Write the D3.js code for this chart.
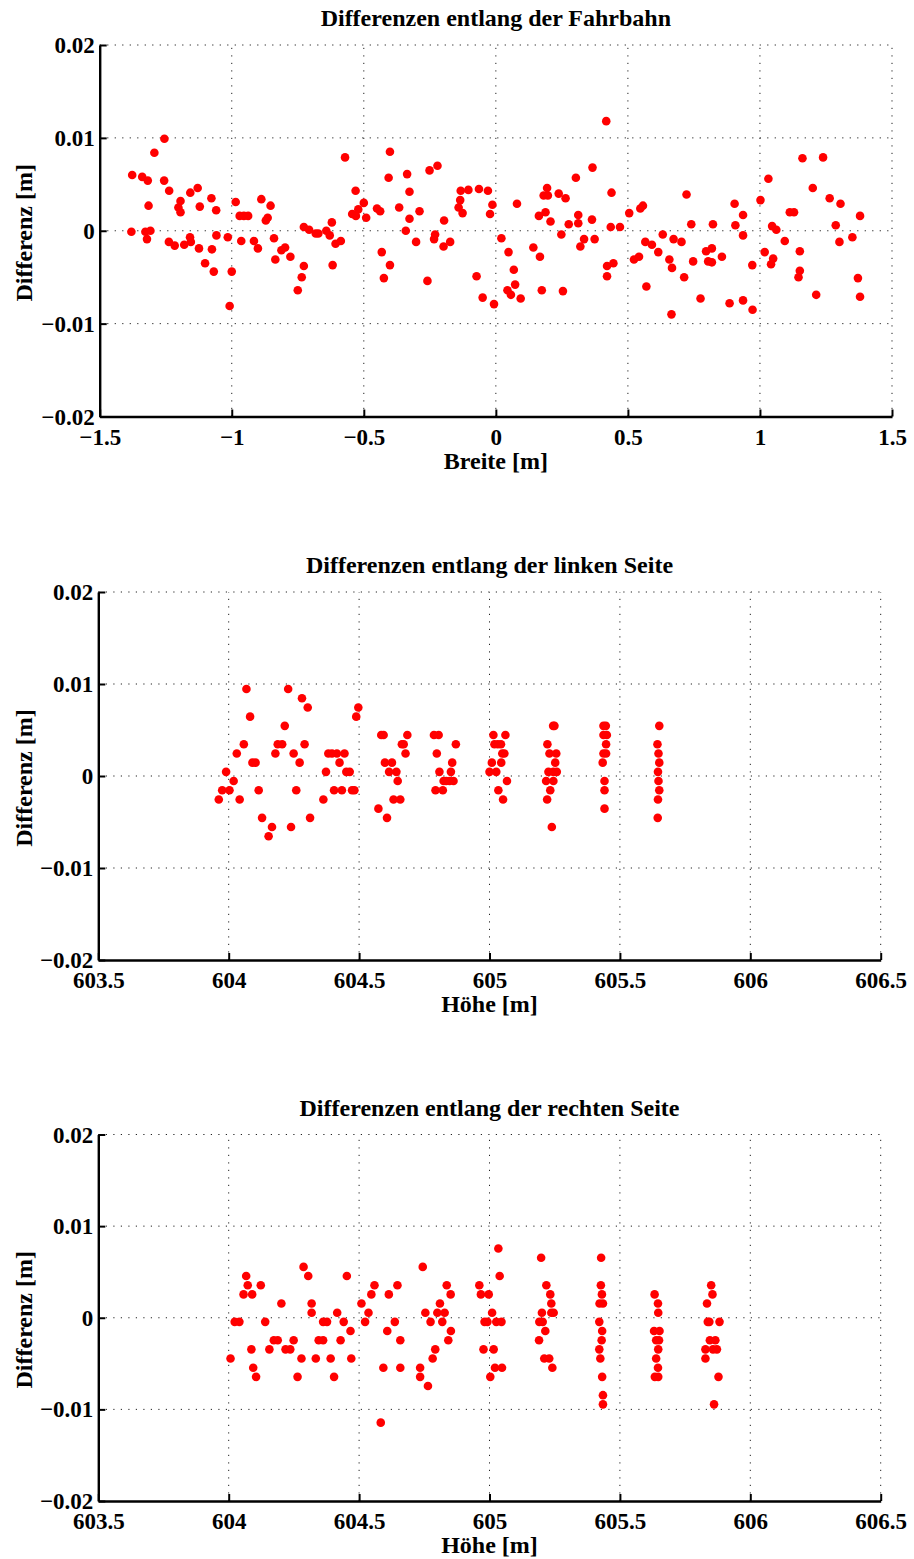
<!DOCTYPE html>
<html>
<head>
<meta charset="utf-8">
<script src="https://cdn.jsdelivr.net/npm/d3@7"></script>
<style>
  html, body { margin: 0; padding: 0; background: #fff; }
  svg { display: block; }
</style>
</head>
<body>
<svg id="chart" width="914" height="1559"></svg>
<script>
// ---------- data ----------
const titles = ["Differenzen entlang der Fahrbahn", "Differenzen entlang der linken Seite", "Differenzen entlang der rechten Seite"];
const xLabels = ["Breite [m]", "Höhe [m]", "Höhe [m]"];
const yLabel = "Differenz [m]";

const yTicks = [-0.02, -0.01, 0, 0.01, 0.02];
const xTicksFahrbahn = [-1.5, -1, -0.5, 0, 0.5, 1, 1.5];
const xTicksSeite = [603.5, 604, 604.5, 605, 605.5, 606, 606.5];

const fahrbahnX = [-1.255,-1.293,-1.377,-1.339,-1.318,-1.256,-1.237,-1.157,-1.129,-1.194,-1.315,-1.202,-1.194,-1.121,-1.077,-1.059,-0.985,-0.970,-0.954,-0.938,-0.888,-0.853,-0.864,-0.871,-1.380,-1.327,-1.308,-1.321,-1.238,-1.216,-1.180,-1.158,-1.155,-1.124,-1.075,-1.058,-1.101,-1.068,-1.015,-0.964,-1.000,-1.008,-0.916,-0.901,-0.840,-0.812,-0.798,-0.835,-0.778,-0.750,
-0.727,-0.735,-0.571,-0.401,-0.406,-0.336,-0.327,-0.251,-0.221,-0.531,-0.500,-0.521,-0.544,-0.530,-0.491,-0.450,-0.438,-0.366,-0.327,-0.289,-0.196,-0.133,-0.104,-0.064,-0.030,-0.135,-0.141,-0.126,-0.013,-0.022,-0.727,-0.707,-0.682,-0.672,-0.642,-0.629,-0.621,-0.607,-0.587,-0.618,-0.341,-0.302,-0.230,-0.234,-0.198,-0.173,-0.432,-0.401,-0.424,-0.259,-0.073,-0.050,-0.007,0.021,
0.418,0.366,0.303,0.194,0.181,0.197,0.238,0.264,0.080,0.438,0.188,0.163,0.207,0.312,0.312,0.276,0.364,0.435,0.470,0.505,0.547,0.557,0.722,0.740,0.048,0.068,0.073,0.044,0.057,0.094,0.142,0.167,0.174,0.248,0.254,0.334,0.320,0.374,0.421,0.445,0.421,0.566,0.591,0.615,0.632,0.673,0.703,0.523,0.542,0.657,0.667,0.570,0.747,0.713,0.665,0.775,
1.161,1.239,1.032,1.200,1.264,1.305,1.379,1.002,0.904,0.936,1.113,1.129,0.822,0.907,1.046,1.062,1.287,0.936,1.094,1.018,1.050,1.042,1.151,1.151,1.146,1.301,1.350,0.796,0.818,0.804,0.818,0.856,0.971,0.885,0.936,0.972,1.213,1.371,1.379];
const fahrbahnY = [0.0099,0.0084,0.0060,0.0058,0.0054,0.0054,0.0043,0.0041,0.0046,0.0032,0.0027,0.0025,0.0020,0.0026,0.0035,0.0022,0.0031,0.0016,0.0016,0.0016,0.0034,0.0027,0.0014,0.0011,-0.0001,-0.0001,0.0000,-0.0009,-0.0012,-0.0016,-0.0015,-0.0007,-0.0012,-0.0019,-0.0020,-0.0005,-0.0035,-0.0044,-0.0007,-0.0011,-0.0044,-0.0081,-0.0011,-0.0019,-0.0008,-0.0021,-0.0018,-0.0031,-0.0028,-0.0064,
-0.0038,-0.0050,0.0079,0.0085,0.0057,0.0061,0.0042,0.0065,0.0070,0.0043,0.0030,0.0023,0.0018,0.0016,0.0014,0.0024,0.0021,0.0025,0.0013,0.0021,0.0011,0.0043,0.0044,0.0045,0.0043,0.0033,0.0025,0.0019,0.0028,0.0018,0.0004,0.0001,-0.0003,-0.0003,0.0000,-0.0005,0.0009,-0.0014,-0.0011,-0.0037,0.0000,-0.0012,-0.0004,-0.0009,-0.0017,-0.0012,-0.0023,-0.0037,-0.0051,-0.0054,-0.0049,-0.0072,-0.0079,-0.0008,
0.0118,0.0068,0.0057,0.0046,0.0038,0.0038,0.0040,0.0035,0.0029,0.0041,0.0020,0.0016,0.0010,0.0017,0.0008,0.0007,0.0012,0.0004,0.0004,0.0019,0.0024,0.0027,0.0039,0.0007,-0.0023,-0.0042,-0.0058,-0.0064,-0.0069,-0.0073,-0.0018,-0.0028,-0.0064,-0.0004,-0.0065,-0.0009,-0.0017,-0.0009,-0.0038,-0.0035,-0.0049,-0.0012,-0.0015,-0.0023,-0.0004,-0.0009,-0.0012,-0.0031,-0.0028,-0.0031,-0.0040,-0.0060,-0.0033,-0.0050,-0.0090,-0.0073,
0.0078,0.0079,0.0056,0.0046,0.0035,0.0029,0.0016,0.0033,0.0029,0.0017,0.0020,0.0020,0.0007,0.0006,0.0005,0.0001,0.0006,-0.0005,-0.0011,-0.0023,-0.0030,-0.0036,-0.0022,-0.0043,-0.0050,-0.0012,-0.0007,-0.0022,-0.0019,-0.0033,-0.0034,-0.0028,-0.0037,-0.0078,-0.0075,-0.0085,-0.0069,-0.0051,-0.0071];

const linksX = [604.068,604.228,604.281,604.303,604.082,604.497,604.489,604.215,604.058,604.031,604.091,604.103,603.990,604.019,603.975,604.003,603.962,604.042,604.115,604.128,604.166,604.153,604.239,604.259,604.312,604.188,604.205,604.291,604.179,604.249,604.272,604.373,604.363,604.382,604.396,604.415,604.444,604.425,604.451,604.464,604.404,604.434,604.473,604.482,604.574,604.607,604.585,604.594,604.664,604.671,604.685,604.678,604.599,604.626,604.615,604.643,604.648,604.632,604.658,604.787,604.805,604.798,604.808,604.793,604.821,604.871,604.857,604.852,604.834,604.847,604.862,604.824,
605.015,605.061,605.019,605.032,605.044,605.049,605.057,605.009,605.045,605.000,605.026,605.067,605.034,605.052,
605.244,605.249,605.222,605.230,605.256,605.252,605.226,605.245,605.258,605.217,605.245,605.233,605.221,605.239,
605.437,605.446,605.437,605.450,605.447,605.437,605.447,605.434,605.441,605.441,605.441,
605.651,605.644,605.648,605.651,605.646,605.648,605.651,605.646,605.645];
const linksY = [0.00945,0.00945,0.00845,0.00745,0.00645,0.00745,0.00645,0.00545,0.00345,0.00245,0.00145,0.00145,0.00045,-0.00055,-0.00155,-0.00155,-0.00255,-0.00255,-0.00155,-0.00455,-0.00555,-0.00655,-0.00555,-0.00155,-0.00455,0.00345,0.00345,0.00345,0.00245,0.00245,0.00145,0.00045,-0.00255,0.00245,0.00245,0.00245,0.00245,0.00145,0.00045,0.00045,-0.00155,-0.00155,-0.00155,-0.00155,-0.00355,-0.00455,0.00445,0.00445,0.00345,0.00345,0.00445,0.00245,0.00145,0.00145,0.00045,0.00045,-0.00055,-0.00255,-0.00255,0.00445,0.00445,0.00245,0.00045,-0.00155,-0.00155,0.00345,0.00145,0.00045,-0.00055,-0.00055,-0.00055,-0.00055,
0.00445,0.00445,0.00345,0.00345,0.00345,0.00245,0.00245,0.00145,0.00145,0.00045,0.00045,-0.00055,-0.00155,-0.00255,
0.00545,0.00545,0.00345,0.00245,0.00245,0.00145,0.00045,0.00045,0.00045,-0.00055,-0.00055,-0.00155,-0.00255,-0.00555,
0.00545,0.00545,0.00445,0.00445,0.00345,0.00245,0.00245,0.00145,-0.00055,-0.00155,-0.00355,
0.00545,0.00345,0.00245,0.00145,0.00045,-0.00055,-0.00155,-0.00255,-0.00455];

const rechtsX = [604.287,604.067,604.305,604.453,604.073,604.123,604.057,604.090,604.202,604.318,604.318,604.416,604.023,604.041,604.140,604.362,604.377,604.441,604.467,604.173,604.188,604.249,604.345,604.362,604.429,604.087,604.156,604.218,604.236,604.007,604.279,604.334,604.391,604.470,604.094,604.105,604.264,604.404,604.583,
604.509,604.536,604.547,604.559,604.523,604.608,604.593,604.614,604.647,604.637,604.658,604.658,
604.744,604.754,604.774,604.792,604.782,604.734,604.734,604.764,604.810,604.800,604.828,604.819,604.836,604.851,604.852,604.842,
604.961,604.967,604.997,605.010,604.981,604.992,605.026,605.046,604.977,605.016,605.021,605.048,605.003,605.034,605.039,
605.198,605.218,605.233,605.237,605.201,605.237,605.246,605.191,605.204,605.214,605.190,605.210,605.229,605.241,
605.428,605.427,605.431,605.422,605.435,605.421,605.432,605.430,605.421,605.425,605.432,605.435,605.435,
605.633,605.646,605.647,605.631,605.652,605.639,605.650,605.647,605.639,605.646,605.634,605.647,
605.850,605.855,605.834,605.837,605.843,605.882,605.845,605.866,605.828,605.857,605.872,605.828,605.878,605.861];
const rechtsY = [0.00555,0.00455,0.00455,0.00455,0.00355,0.00355,0.00255,0.00255,0.00155,0.00155,0.00055,0.00055,-0.00045,-0.00045,-0.00045,-0.00045,-0.00045,-0.00045,-0.00145,-0.00245,-0.00245,-0.00245,-0.00245,-0.00245,-0.00245,-0.00345,-0.00345,-0.00345,-0.00345,-0.00445,-0.00445,-0.00445,-0.00445,-0.00445,-0.00545,-0.00645,-0.00645,-0.00645,-0.01145,
0.00155,0.00055,0.00255,0.00355,-0.00045,-0.00145,-0.00545,0.00255,0.00355,-0.00045,-0.00245,-0.00545,
0.00555,0.00055,-0.00045,-0.00345,-0.00445,-0.00545,-0.00645,-0.00745,0.00155,0.00055,0.00055,-0.00045,0.00355,0.00255,-0.00145,-0.00245,
0.00355,0.00255,0.00255,0.00055,-0.00045,-0.00045,-0.00045,-0.00045,-0.00345,-0.00345,-0.00545,-0.00545,-0.00645,0.00755,0.00455,
0.00655,0.00355,0.00255,0.00155,0.00055,0.00055,0.00055,-0.00045,-0.00045,-0.00145,-0.00245,-0.00445,-0.00445,-0.00545,
0.00655,0.00355,0.00255,0.00155,0.00155,-0.00045,-0.00145,-0.00245,-0.00345,-0.00445,-0.00645,-0.00845,-0.00945,
0.00255,0.00155,0.00055,-0.00145,-0.00145,-0.00245,-0.00245,-0.00345,-0.00445,-0.00545,-0.00645,-0.00645,
0.00355,0.00255,0.00155,-0.00045,-0.00045,-0.00045,-0.00245,-0.00245,-0.00345,-0.00345,-0.00345,-0.00445,-0.00645,-0.00945];

// ---------- layout ----------
const panels = [
  { xs: fahrbahnX, ys: fahrbahnY, xTicks: xTicksFahrbahn, left: 99.7, right: 892, top: 45, bottom: 416.5 },
  { xs: linksX, ys: linksY, xTicks: xTicksSeite, left: 98.3, right: 880.7, top: 592, bottom: 960 },
  { xs: rechtsX, ys: rechtsY, xTicks: xTicksSeite, left: 98.3, right: 880.7, top: 1134.5, bottom: 1501 }
];

const FONT = "'Liberation Serif', 'Times New Roman', Times, 'DejaVu Serif', serif";
const FS = 23;   // tick labels
const FL = 24;   // titles and axis labels

const svg = d3.select("#chart");
const fmt = v => String(+v.toFixed(4)).replace("-", "\u2212");

panels.forEach((p, i) => {
  const x = d3.scaleLinear().domain(d3.extent(p.xTicks)).range([p.left, p.right]);
  const y = d3.scaleLinear().domain([-0.02, 0.02]).range([p.bottom, p.top]);
  const g = svg.append("g").attr("font-family", FONT).attr("font-weight", "bold");

  // grid (dotted)
  const grid = g.append("g").attr("stroke", "#222").attr("stroke-width", 1).attr("stroke-dasharray", "1.2,6.3").attr("fill", "none");
  p.xTicks.slice(1).forEach(t => {
    grid.append("line").attr("x1", x(t)).attr("x2", x(t)).attr("y1", p.bottom).attr("y2", p.top);
  });
  yTicks.slice(1).forEach(t => {
    grid.append("line").attr("x1", p.left).attr("x2", p.right).attr("y1", y(t)).attr("y2", y(t));
  });

  // points
  const data = p.xs.map((v, k) => [v, p.ys[k]]);
  g.append("g").selectAll("circle").data(data).join("circle")
    .attr("cx", d => x(d[0])).attr("cy", d => y(d[1])).attr("r", 4.3).attr("fill", "#ff0000");

  // axes
  const xAxis = d3.axisBottom(x).tickValues(p.xTicks).tickSizeInner(-7).tickSizeOuter(0).tickFormat(fmt);
  const yAxis = d3.axisLeft(y).tickValues(yTicks).tickSizeInner(-7).tickSizeOuter(0).tickFormat(fmt);

  const gx = g.append("g").attr("transform", `translate(0,${p.bottom})`).call(xAxis);
  const gy = g.append("g").attr("transform", `translate(${p.left},0)`).call(yAxis);
  [gx, gy].forEach(a => {
    a.attr("font-family", FONT).attr("font-size", FS).attr("font-weight", "bold");
    a.select(".domain").attr("stroke", "#000").attr("stroke-width", 2.4);
    a.selectAll(".tick line").attr("stroke", "#000").attr("stroke-width", 2);
    a.selectAll(".tick text").attr("fill", "#000");
  });
  gy.selectAll(".tick text").attr("x", -5).attr("dy", "0.33em");
  gx.selectAll(".tick text").attr("y", 28).attr("dy", null);

  const cx = (p.left + p.right) / 2;
  g.append("text").attr("x", cx).attr("y", p.top - 19).attr("text-anchor", "middle").attr("font-size", FL).attr("fill", "#000").text(titles[i]);
  g.append("text").attr("x", cx).attr("y", p.bottom + 52).attr("text-anchor", "middle").attr("font-size", FL).attr("fill", "#000").text(xLabels[i]);
  g.append("text").attr("transform", `translate(32,${(p.top + p.bottom) / 2 + 2}) rotate(-90)`)
    .attr("text-anchor", "middle").attr("font-size", FL).attr("fill", "#000").text(yLabel);
});
</script>
</body>
</html>
